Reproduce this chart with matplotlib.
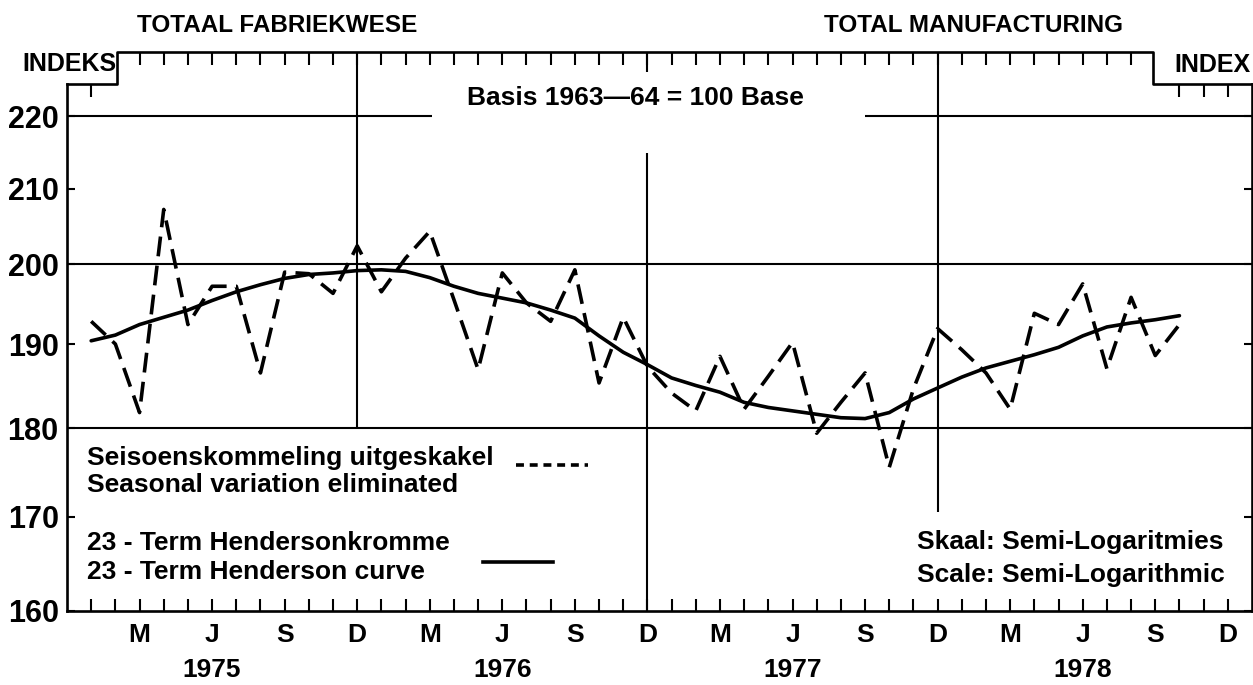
import numpy as np
import matplotlib.pyplot as plt
from matplotlib.ticker import FixedLocator, NullFormatter

plt.rcParams['font.family'] = ['Liberation Sans', 'DejaVu Sans']
plt.rcParams['font.weight'] = 'bold'

# month number counted from December 1974 (= 0)
months = list(range(1, 47))  # Jan 1975 .. Oct 1978

# seasonal variation eliminated (dashed)
seasonal = [192.8, 190.0, 181.8, 207.2, 192.4, 197.2, 197.2, 186.5, 199.0, 198.8,
            196.3, 202.4, 196.5, 200.8, 204.3, 195.5, 186.9, 198.9, 195.1, 192.8,
            199.3, 185.3, 193.3, 187.3, 184.1, 182.0, 188.5, 182.2, 186.1, 190.2,
            179.4, 183.0, 186.5, 175.5, 184.6, 191.9, 189.3, 186.5, 182.2, 193.8,
            192.4, 197.5, 187.0, 195.8, 188.6, 192.4]

# 23-term Henderson curve (solid)
henderson = [190.4, 191.1, 192.4, 193.3, 194.2, 195.4, 196.5, 197.4, 198.2, 198.7,
             198.9, 199.2, 199.3, 199.1, 198.3, 197.2, 196.3, 195.7, 195.1, 194.2,
             193.2, 191.0, 189.0, 187.5, 185.9, 185.0, 184.2, 183.0, 182.4, 182.0,
             181.6, 181.2, 181.1, 181.8, 183.4, 184.7, 186.0, 187.1, 187.9, 188.7,
             189.6, 191.0, 192.1, 192.6, 193.0, 193.5]

y_ticks = [160, 170, 180, 190, 200, 210, 220]
grid_values = [180, 200]
quarter_months = list(range(3, 49, 3))
quarter_labels = ['M', 'J', 'S', 'D'] * 4
year_months = [6, 18, 30, 42]
year_labels = ['1975', '1976', '1977', '1978']

fig = plt.figure(figsize=(12.53, 6.85), dpi=100)
ax = fig.add_axes([67 / 1253, 74 / 685, 1185 / 1253, 559 / 685])
ax.set_yscale('log')
ax.set_xlim(0, 49)
ax.set_ylim(160, 229.3)

lw_frame = 1.9
ax.plot(months, henderson, color='black', lw=2.6, solid_capstyle='round', zorder=4)
ax.plot(months, seasonal, color='black', lw=2.6, dashes=(5.5, 2.6), zorder=4)

# gridlines
for g in grid_values:
    ax.axhline(g, color='black', lw=1.5, zorder=2)
ax.hlines(220, 0, 15.1, color='black', lw=1.5, zorder=2)
ax.hlines(220, 33.0, 49, color='black', lw=1.5, zorder=2)
ax.vlines(12, 180, 229.3, color='black', lw=1.5, zorder=2)
ax.vlines(24, 160, 214.9, color='black', lw=1.5, zorder=2)
ax.vlines(24, 226.3, 229.3, color='black', lw=1.5, zorder=2)
ax.vlines(36, 170.5, 229.3, color='black', lw=1.5, zorder=2)

# stepped frame
step = 224.6
ax.spines['top'].set_visible(False)
ax.spines['left'].set_bounds(160, step)
ax.spines['right'].set_bounds(160, step)
for s in ['left', 'right', 'bottom']:
    ax.spines[s].set_linewidth(lw_frame)
ax.plot([0, 2.07, 2.07, 44.9, 44.9, 49], [step, step, 229.3, 229.3, step, step],
        color='black', lw=lw_frame, clip_on=False, zorder=5)

# top ticks hanging from the frame
top_on_high = list(range(3, 45))
top_on_low = [1, 46, 47, 48]
ax.vlines(top_on_high, 229.3 * 10 ** (-0.0035), 229.3, color='black', lw=1.5, zorder=5)
ax.vlines(top_on_low, step * 10 ** (-0.0035), step, color='black', lw=1.5, zorder=5)

# axes ticks
ax.yaxis.set_major_locator(FixedLocator(y_ticks))
ax.yaxis.set_minor_locator(FixedLocator([]))
ax.yaxis.set_minor_formatter(NullFormatter())
ax.set_yticklabels([str(v) for v in y_ticks])
ax.tick_params(axis='y', which='major', direction='in', length=6, width=1.5,
               labelsize=22, pad=6, right=True)
ax.xaxis.set_major_locator(FixedLocator(quarter_months))
ax.xaxis.set_minor_locator(FixedLocator(list(range(1, 49))))
ax.set_xticklabels(quarter_labels)
ax.tick_params(axis='x', which='both', direction='in', length=9, width=1.5,
               labelsize=19, pad=9)

for m, lab in zip(year_months, year_labels):
    ax.text(m, -0.105, lab, transform=ax.get_xaxis_transform(), ha='center',
            va='center', fontsize=19, fontweight='bold')

# legend texts
ax.text(0.0168, 0.273, 'Seisoenskommeling uitgeskakel', transform=ax.transAxes,
        fontsize=19, va='center', ha='left')
ax.text(0.0168, 0.225, 'Seasonal variation eliminated', transform=ax.transAxes,
        fontsize=19, va='center', ha='left')
ax.text(0.0168, 0.122, '23 - Term Hendersonkromme', transform=ax.transAxes,
        fontsize=19, va='center', ha='left')
ax.text(0.0168, 0.070, '23 - Term Henderson curve', transform=ax.transAxes,
        fontsize=19, va='center', ha='left')
ax.plot([0.379, 0.440], [0.261, 0.261], transform=ax.transAxes, color='black',
        lw=2.6, dashes=(2.2, 1.6))
ax.plot([0.351, 0.410], [0.088, 0.088], transform=ax.transAxes, color='black', lw=2.6)

ax.text(0.717, 0.124, 'Skaal: Semi-Logaritmies', transform=ax.transAxes,
        fontsize=19, va='center', ha='left')
ax.text(0.717, 0.064, 'Scale: Semi-Logarithmic', transform=ax.transAxes,
        fontsize=19, va='center', ha='left')

ax.text(0.48, 0.918, 'Basis 1963\u201464 = 100 Base', transform=ax.transAxes,
        fontsize=19, va='center', ha='center')

# headings
fig.text(137 / 1253, 1 - 25 / 685, 'TOTAAL FABRIEKWESE', fontsize=17.5,
         va='center', ha='left')
fig.text(1123 / 1253, 1 - 25 / 685, 'TOTAL MANUFACTURING', fontsize=17.5,
         va='center', ha='right')
fig.text(22 / 1253, 1 - 64 / 685, 'INDEKS', fontsize=18, va='center', ha='left')
fig.text(1250 / 1253, 1 - 65 / 685, 'INDEX', fontsize=18, va='center', ha='right')

fig.savefig('out.png', dpi=100, facecolor='white')
